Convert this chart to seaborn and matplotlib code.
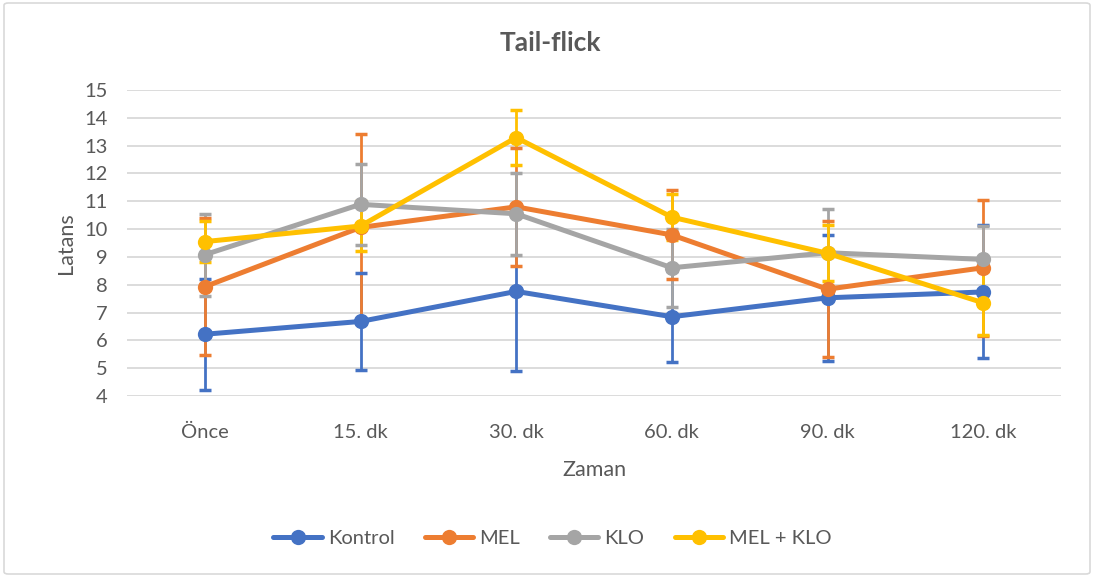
import numpy as np
import pandas as pd
import seaborn as sns
import matplotlib.pyplot as plt
from matplotlib.patches import FancyBboxPatch

# data
zaman = ["Önce", "15. dk", "30. dk", "60. dk", "90. dk", "120. dk"]
groups = ["Kontrol", "MEL", "KLO", "MEL + KLO"]

kontrol = [6.22, 6.68, 7.76, 6.85, 7.53, 7.74]
kontrol_err = [2.0, 1.75, 2.86, 1.63, 2.26, 2.39]
mel = [7.93, 10.06, 10.80, 9.79, 7.84, 8.61]
mel_err = [2.47, 3.36, 2.11, 1.60, 2.45, 2.44]
klo = [9.08, 10.89, 10.55, 8.61, 9.15, 8.91]
klo_err = [1.47, 1.46, 1.48, 1.40, 1.58, 1.20]
melklo = [9.55, 10.11, 13.29, 10.43, 9.13, 7.35]
melklo_err = [0.74, 0.89, 1.00, 0.82, 1.00, 1.16]

colors = ["#4472C4", "#ED7D31", "#A5A5A5", "#FFC000"]
text_c = "#595959"

df = pd.DataFrame({
    "Zaman": zaman * 4,
    "pos": list(range(len(zaman))) * 4,
    "Latans": kontrol + mel + klo + melklo,
    "err": kontrol_err + mel_err + klo_err + melklo_err,
    "group": np.repeat(groups, len(zaman)),
})

sns.set_theme(style="white")
plt.rcParams["font.family"] = ["Lato", "DejaVu Sans"]

fig = plt.figure(figsize=(10.94, 5.77), dpi=100)
ax = fig.add_axes([127 / 1094, 1 - 396 / 577, (1061 - 127) / 1094, 306 / 577])

# chart border
fig.patches.append(FancyBboxPatch(
    (4 / 1094, 3 / 577), 1086 / 1094, 571 / 577,
    boxstyle="round,pad=0,rounding_size=0.004",
    transform=fig.transFigure, fill=False, ec="#D9D9D9", lw=1.2))

palette = dict(zip(groups, colors))

# error bars first, each series on its own layer
for i, g in enumerate(groups):
    sub = df[df.group == g]
    ax.errorbar(sub["pos"], sub["Latans"], yerr=sub["err"], fmt="none",
                ecolor=palette[g], elinewidth=2, capsize=4, capthick=2.5,
                zorder=3 + i * 2)

sns.lineplot(data=df, x="pos", y="Latans", hue="group", palette=palette,
             marker="o", markersize=11, markeredgewidth=0, linewidth=3.6,
             ax=ax, legend=False, zorder=4)
for i, line in enumerate(ax.lines):
    line.set_zorder(4 + i * 2)

ax.set_xlim(-0.5, len(zaman) - 0.5)
ax.set_ylim(4, 15)
ax.set_yticks(range(4, 16))
ax.set_xticks(range(len(zaman)))
ax.set_xticklabels(zaman)
ax.grid(axis="y", color="#D9D9D9", lw=1.3)
ax.set_axisbelow(True)
sns.despine(ax=ax, left=True, bottom=True)
ax.tick_params(axis="both", length=0, labelsize=14.5, colors=text_c)
ax.tick_params(axis="x", pad=20)
ax.tick_params(axis="y", pad=14)

ax.set_xlabel("Zaman", fontsize=15.5, color=text_c, labelpad=14)
ax.set_ylabel("Latans", fontsize=15.5, color=text_c, labelpad=6)
fig.text(0.503, 1 - 43 / 577, "Tail-flick", ha="center", va="center",
         fontsize=19, fontweight="bold", color=text_c)

handles = [plt.Line2D([], [], color=palette[g], lw=3.6, marker="o",
                      markersize=11, markeredgewidth=0) for g in groups]
fig.legend(handles, groups, loc="center", bbox_to_anchor=(0.505, 1 - 538 / 577),
           ncol=4, frameon=False, fontsize=14.5, handlelength=2.4,
           columnspacing=1.5, handletextpad=0.3, labelcolor=text_c)

fig.savefig("out.png", dpi=100)
